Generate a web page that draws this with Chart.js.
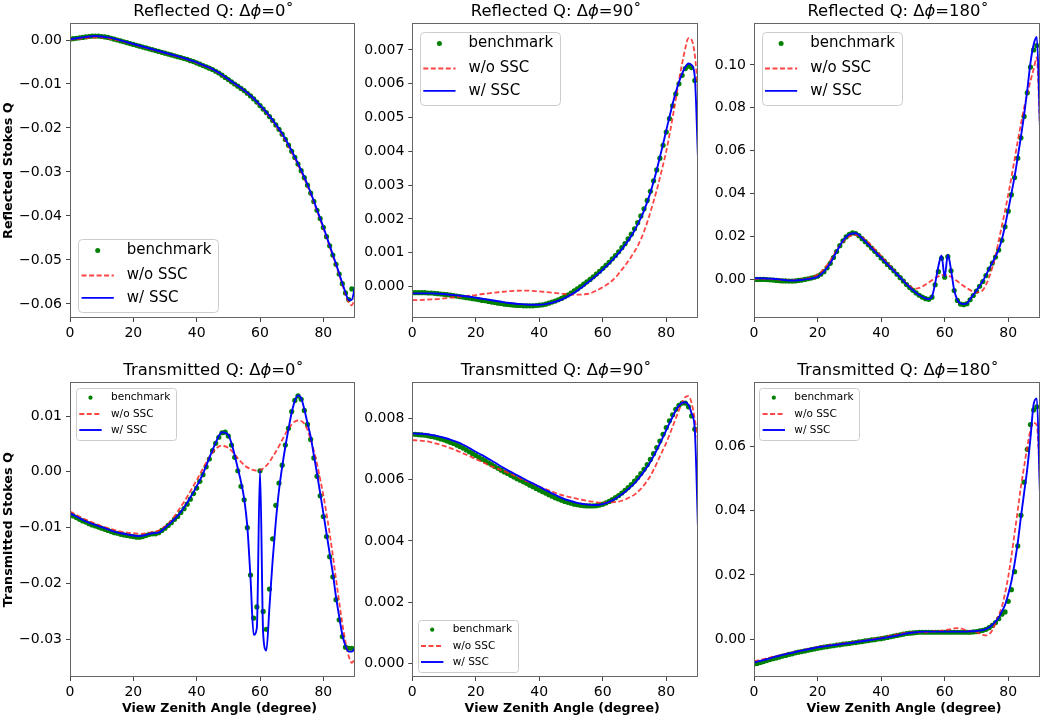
<!DOCTYPE html>
<html>
<head>
<meta charset="utf-8">
<script src="https://cdn.jsdelivr.net/npm/chart.js@4.4.1/dist/chart.umd.min.js"></script>
<style>
  html, body { margin: 0; padding: 0; background: #fff; }
  body { width: 1045px; height: 719px; position: relative; overflow: hidden; }
  .panel { position: absolute; }
</style>
</head>
<body>
<div class="panel" style="left:0px;top:0px;width:360px;height:340px"><canvas id="c1"></canvas></div>
<div class="panel" style="left:356px;top:0px;width:346px;height:340px"><canvas id="c2"></canvas></div>
<div class="panel" style="left:699px;top:0px;width:346px;height:340px"><canvas id="c3"></canvas></div>
<div class="panel" style="left:0px;top:340px;width:360px;height:379px"><canvas id="c4"></canvas></div>
<div class="panel" style="left:356px;top:340px;width:346px;height:379px"><canvas id="c5"></canvas></div>
<div class="panel" style="left:699px;top:340px;width:346px;height:379px"><canvas id="c6"></canvas></div>
<script>
// view zenith angles (degree) for the two model curves and the benchmark dots
const lineAngles = [0, 2, 4, 6, 8, 10, 12, 14, 16, 18, 20, 22, 24, 26, 28, 30, 32, 34, 36, 38, 40, 42, 44, 46, 48, 50,
  51, 52, 53, 54, 55, 56, 57, 58, 59, 60,
  61, 62, 63, 64, 65, 66, 67, 68, 69, 70,
  71, 72, 73, 74, 75, 76, 77, 78, 79, 80,
  81, 82, 83, 84, 85, 86, 87, 88, 89, 90];
const benchAngles = [0, 1, 2, 3, 4, 5, 6, 7, 8, 9,
  10, 11, 12, 13, 14, 15, 16, 17, 18, 19,
  20, 21, 22, 23, 24, 25, 26, 27, 28, 29,
  30, 31, 32, 33, 34, 35, 36, 37, 38, 39,
  40, 41, 42, 43, 44, 45, 46, 47, 48, 49,
  50, 51, 52, 53, 54, 55, 56, 57, 58, 59,
  60, 61, 62, 63, 64, 65, 66, 67, 68, 69,
  70, 71, 72, 73, 74, 75, 76, 77, 78, 79,
  80, 81, 82, 83, 84, 85, 86, 87, 88, 89];
const xTicks = [0, 20, 40, 60, 80];

const titles = ['Reflected Q: Δϕ=0˚', 'Reflected Q: Δϕ=90˚', 'Reflected Q: Δϕ=180˚',
  'Transmitted Q: Δϕ=0˚', 'Transmitted Q: Δϕ=90˚', 'Transmitted Q: Δϕ=180˚'];
const seriesNames = ['benchmark', 'w/o SSC', 'w/ SSC'];

// Reflected, dphi = 0
const refl0Ticks = [0, -0.01, -0.02, -0.03, -0.04, -0.05, -0.06];
const refl0WithSsc = [0.0002, 0.0004, 0.0006, 0.0008, 0.0009, 0.0008, 0.0006, 0.0003, -0.0001, -0.0005, -0.0009, -0.0013, -0.0017,
  -0.0021, -0.0025, -0.0029, -0.0033, -0.0037, -0.0041, -0.0046, -0.0051, -0.0057, -0.0063, -0.0070, -0.0079, -0.0089,
  -0.0094, -0.0099, -0.0104, -0.0109, -0.0114, -0.0120, -0.0126, -0.0133, -0.0140, -0.0148,
  -0.0156, -0.0164, -0.0173, -0.0182, -0.0192, -0.0202, -0.0213, -0.0225, -0.0238, -0.0252,
  -0.0266, -0.0281, -0.0296, -0.0312, -0.0329, -0.0347, -0.0366, -0.0386, -0.0405, -0.0425,
  -0.0446, -0.0467, -0.0488, -0.0509, -0.0531, -0.0553, -0.0574, -0.0591, -0.0590, -0.0560];
const refl0NoSsc = [0.0001, 0.0002, 0.0004, 0.0005, 0.0006, 0.0006, 0.0004, 0.0001, -0.0002, -0.0006, -0.0010, -0.0014, -0.0018,
  -0.0022, -0.0026, -0.0030, -0.0034, -0.0038, -0.0042, -0.0047, -0.0052, -0.0058, -0.0064, -0.0071, -0.0080, -0.0090,
  -0.0095, -0.0100, -0.0105, -0.0110, -0.0115, -0.0121, -0.0127, -0.0134, -0.0141, -0.0149,
  -0.0157, -0.0166, -0.0175, -0.0184, -0.0194, -0.0205, -0.0216, -0.0228, -0.0241, -0.0255,
  -0.0269, -0.0284, -0.0299, -0.0315, -0.0332, -0.0350, -0.0369, -0.0388, -0.0408, -0.0428,
  -0.0449, -0.0470, -0.0491, -0.0512, -0.0534, -0.0556, -0.0578, -0.0597, -0.0603, -0.0585];
const refl0Bench = [0.0002, 0.0003, 0.0004, 0.0005, 0.0006, 0.0007, 0.0008, 0.0009, 0.0009, 0.0009,
  0.0008, 0.0007, 0.0006, 0.0004, 0.0002, 0.0000, -0.0002, -0.0004, -0.0006, -0.0008,
  -0.0010, -0.0012, -0.0014, -0.0016, -0.0018, -0.0020, -0.0022, -0.0024, -0.0026, -0.0028,
  -0.0030, -0.0032, -0.0034, -0.0036, -0.0038, -0.0040, -0.0042, -0.0044, -0.0047, -0.0049,
  -0.0052, -0.0055, -0.0058, -0.0061, -0.0064, -0.0067, -0.0071, -0.0075, -0.0080, -0.0085,
  -0.0090, -0.0095, -0.0100, -0.0105, -0.0110, -0.0115, -0.0121, -0.0127, -0.0134, -0.0141,
  -0.0149, -0.0157, -0.0165, -0.0174, -0.0183, -0.0193, -0.0203, -0.0214, -0.0226, -0.0239,
  -0.0253, -0.0267, -0.0282, -0.0297, -0.0313, -0.0330, -0.0348, -0.0367, -0.0387, -0.0406,
  -0.0426, -0.0447, -0.0468, -0.0489, -0.0510, -0.0532, -0.0554, -0.0575, -0.0590, -0.0566];

// Reflected, dphi = 90
const refl90Ticks = [0, 0.001, 0.002, 0.003, 0.004, 0.005, 0.006, 0.007];
const refl90WithSsc = [-0.00020, -0.00020, -0.00020, -0.00020, -0.00021, -0.00022, -0.00024, -0.00026, -0.00028, -0.00030, -0.00033, -0.00036, -0.00039,
  -0.00042, -0.00045, -0.00048, -0.00050, -0.00052, -0.00053, -0.00054, -0.00054, -0.00052, -0.00048, -0.00042, -0.00034, -0.00024,
  -0.00018, -0.00012, -0.00005, 0.00002, 0.00010, 0.00017, 0.00025, 0.00033, 0.00041, 0.00050,
  0.00059, 0.00068, 0.00078, 0.00088, 0.00099, 0.00110, 0.00123, 0.00136, 0.00150, 0.00166,
  0.00184, 0.00203, 0.00225, 0.00250, 0.00278, 0.00310, 0.00345, 0.00383, 0.00422, 0.00462,
  0.00502, 0.00540, 0.00575, 0.00605, 0.00630, 0.00650, 0.00660, 0.00655, 0.00620, 0.00380];
const refl90NoSsc = [-0.00040, -0.00040, -0.00039, -0.00038, -0.00037, -0.00035, -0.00033, -0.00031, -0.00029, -0.00027, -0.00025, -0.00022, -0.00020,
  -0.00018, -0.00016, -0.00014, -0.00013, -0.00012, -0.00012, -0.00013, -0.00014, -0.00016, -0.00018, -0.00020, -0.00022, -0.00023,
  -0.00024, -0.00024, -0.00024, -0.00023, -0.00022, -0.00020, -0.00016, -0.00012, -0.00007, -0.00002,
  0.00004, 0.00010, 0.00018, 0.00027, 0.00038, 0.00050, 0.00062, 0.00075, 0.00089, 0.00104,
  0.00120, 0.00140, 0.00163, 0.00190, 0.00220, 0.00252, 0.00285, 0.00322, 0.00360, 0.00400,
  0.00448, 0.00500, 0.00555, 0.00610, 0.00660, 0.00705, 0.00735, 0.00730, 0.00685, 0.00580];
const refl90Bench = [-0.00018, -0.00018, -0.00018, -0.00018, -0.00018, -0.00019, -0.00019, -0.00020, -0.00021, -0.00022,
  -0.00023, -0.00024, -0.00025, -0.00027, -0.00028, -0.00030, -0.00031, -0.00033, -0.00034, -0.00036,
  -0.00037, -0.00039, -0.00041, -0.00042, -0.00044, -0.00046, -0.00047, -0.00049, -0.00050, -0.00052,
  -0.00053, -0.00054, -0.00055, -0.00056, -0.00056, -0.00057, -0.00057, -0.00057, -0.00057, -0.00056,
  -0.00055, -0.00054, -0.00052, -0.00049, -0.00046, -0.00043, -0.00039, -0.00035, -0.00030, -0.00025,
  -0.00019, -0.00013, -0.00007, 0.00000, 0.00007, 0.00014, 0.00021, 0.00029, 0.00037, 0.00045,
  0.00054, 0.00063, 0.00072, 0.00082, 0.00092, 0.00103, 0.00115, 0.00127, 0.00141, 0.00155,
  0.00171, 0.00189, 0.00209, 0.00230, 0.00255, 0.00282, 0.00313, 0.00345, 0.00380, 0.00418,
  0.00457, 0.00497, 0.00535, 0.00570, 0.00600, 0.00625, 0.00645, 0.00652, 0.00648, 0.00610];

// Reflected, dphi = 180
const refl180Ticks = [0, 0.02, 0.04, 0.06, 0.08, 0.10];
const refl180WithSsc = [0.0005, 0.0005, 0.0004, 0.0003, 0.0000, -0.0004, -0.0005, -0.0004, 0.0000, 0.0004, 0.0012, 0.0036, 0.0075,
  0.0130, 0.0180, 0.0210, 0.0215, 0.0192, 0.0162, 0.0131, 0.0100, 0.0070, 0.0040, 0.0009, -0.0022, -0.0050,
  -0.0062, -0.0073, -0.0082, -0.0089, -0.0092, -0.0081, -0.0019, 0.0059, 0.0112, 0.0012,
  0.0115, 0.0044, -0.0050, -0.0096, -0.0112, -0.0115, -0.0112, -0.0092, -0.0072, -0.0052,
  -0.0030, -0.0008, 0.0020, 0.0050, 0.0078, 0.0106, 0.0140, 0.0186, 0.0250, 0.0323,
  0.0400, 0.0479, 0.0570, 0.0666, 0.0767, 0.0883, 0.1010, 0.1095, 0.1130, 0.0710];
const refl180NoSsc = [0.0003, 0.0003, 0.0002, 0.0001, -0.0001, -0.0003, -0.0004, -0.0002, 0.0002, 0.0010, 0.0022, 0.0048, 0.0088,
  0.0135, 0.0175, 0.0200, 0.0207, 0.0196, 0.0172, 0.0140, 0.0108, 0.0076, 0.0043, 0.0010, -0.0020, -0.0040,
  -0.0043, -0.0040, -0.0033, -0.0024, -0.0014, -0.0004, 0.0006, 0.0014, 0.0020, 0.0022,
  0.0019, 0.0012, 0.0002, -0.0009, -0.0020, -0.0031, -0.0041, -0.0050, -0.0057, -0.0061,
  -0.0058, -0.0050, -0.0025, 0.0010, 0.0055, 0.0110, 0.0180, 0.0250, 0.0320, 0.0395,
  0.0475, 0.0560, 0.0645, 0.0725, 0.0800, 0.0865, 0.0925, 0.0980, 0.1035, 0.0700];
const refl180Bench = [0.0000, 0.0000, 0.0000, 0.0000, -0.0001, -0.0002, -0.0003, -0.0005, -0.0006, -0.0007,
  -0.0007, -0.0008, -0.0008, -0.0007, -0.0005, -0.0003, 0.0000, 0.0003, 0.0006, 0.0010,
  0.0015, 0.0024, 0.0036, 0.0054, 0.0075, 0.0102, 0.0130, 0.0157, 0.0180, 0.0198,
  0.0210, 0.0217, 0.0214, 0.0204, 0.0190, 0.0176, 0.0161, 0.0146, 0.0131, 0.0116,
  0.0100, 0.0085, 0.0070, 0.0055, 0.0040, 0.0024, 0.0008, -0.0008, -0.0024, -0.0038,
  -0.0051, -0.0063, -0.0074, -0.0083, -0.0090, -0.0093, -0.0083, -0.0025, 0.0036, 0.0098,
  0.0010, 0.0106, 0.0040, -0.0052, -0.0098, -0.0115, -0.0118, -0.0113, -0.0095, -0.0075,
  -0.0055, -0.0032, -0.0010, 0.0018, 0.0048, 0.0076, 0.0104, 0.0137, 0.0182, 0.0245,
  0.0318, 0.0395, 0.0475, 0.0565, 0.0660, 0.0760, 0.0870, 0.0990, 0.1070, 0.1090];

// Transmitted, dphi = 0
const trans0Ticks = [0.01, 0, -0.01, -0.02, -0.03];
const trans0WithSsc = [-0.0074, -0.0080, -0.0086, -0.0091, -0.0095, -0.0099, -0.0103, -0.0107, -0.0110, -0.0112, -0.0114, -0.0115, -0.0113,
  -0.0110, -0.0109, -0.0100, -0.0090, -0.0079, -0.0064, -0.0046, -0.0026, -0.0003, 0.0025, 0.0052, 0.0071, 0.0066,
  0.0051, 0.0030, 0.0006, -0.0018, -0.0048, -0.0098, -0.0190, -0.0292, -0.0280, 0.0003,
  -0.0290, -0.0320, -0.0241, -0.0158, -0.0089, -0.0033, 0.0009, 0.0045, 0.0077, 0.0106,
  0.0127, 0.0137, 0.0132, 0.0112, 0.0087, 0.0063, 0.0030, -0.0003, -0.0038, -0.0074,
  -0.0110, -0.0146, -0.0182, -0.0224, -0.0259, -0.0292, -0.0312, -0.0322, -0.0322, -0.0316];
const trans0NoSsc = [-0.0071, -0.0077, -0.0083, -0.0088, -0.0093, -0.0097, -0.0101, -0.0104, -0.0107, -0.0109, -0.0110, -0.0111, -0.0110,
  -0.0108, -0.0105, -0.0098, -0.0087, -0.0071, -0.0054, -0.0035, -0.0015, 0.0006, 0.0026, 0.0041, 0.0047, 0.0043,
  0.0038, 0.0031, 0.0024, 0.0018, 0.0012, 0.0008, 0.0005, 0.0003, 0.0002, 0.0003,
  0.0006, 0.0011, 0.0018, 0.0027, 0.0036, 0.0046, 0.0057, 0.0068, 0.0077, 0.0085,
  0.0090, 0.0092, 0.0091, 0.0086, 0.0075, 0.0058, 0.0038, 0.0014, -0.0013, -0.0042,
  -0.0075, -0.0110, -0.0150, -0.0192, -0.0233, -0.0272, -0.0305, -0.0330, -0.0342, -0.0335];
const trans0Bench = [-0.0076, -0.0079, -0.0082, -0.0085, -0.0088, -0.0090, -0.0093, -0.0095, -0.0097, -0.0099,
  -0.0101, -0.0103, -0.0105, -0.0107, -0.0109, -0.0110, -0.0112, -0.0113, -0.0114, -0.0115,
  -0.0116, -0.0117, -0.0117, -0.0116, -0.0114, -0.0112, -0.0111, -0.0111, -0.0109, -0.0105,
  -0.0101, -0.0096, -0.0091, -0.0085, -0.0080, -0.0073, -0.0066, -0.0058, -0.0049, -0.0039,
  -0.0029, -0.0017, -0.0005, 0.0009, 0.0023, 0.0038, 0.0051, 0.0062, 0.0070, 0.0071,
  0.0064, 0.0048, 0.0026, 0.0002, -0.0026, -0.0050, -0.0100, -0.0185, -0.0262, -0.0242,
  0.0002, -0.0250, -0.0282, -0.0210, -0.0120, -0.0060, -0.0020, 0.0012, 0.0048, 0.0078,
  0.0108, 0.0128, 0.0136, 0.0130, 0.0110, 0.0085, 0.0058, 0.0025, -0.0008, -0.0043,
  -0.0080, -0.0116, -0.0152, -0.0188, -0.0229, -0.0265, -0.0295, -0.0314, -0.0316, -0.0316];

// Transmitted, dphi = 90
const trans90Ticks = [0, 0.002, 0.004, 0.006, 0.008];
const trans90WithSsc = [0.00751, 0.00750, 0.00749, 0.00746, 0.00742, 0.00737, 0.00731, 0.00723, 0.00714, 0.00703, 0.00691, 0.00680, 0.00668,
  0.00656, 0.00643, 0.00631, 0.00620, 0.00609, 0.00598, 0.00588, 0.00577, 0.00566, 0.00555, 0.00545, 0.00536, 0.00530,
  0.00527, 0.00524, 0.00522, 0.00520, 0.00519, 0.00518, 0.00517, 0.00517, 0.00518, 0.00520,
  0.00523, 0.00527, 0.00532, 0.00538, 0.00545, 0.00552, 0.00560, 0.00569, 0.00578, 0.00588,
  0.00600, 0.00613, 0.00627, 0.00642, 0.00658, 0.00677, 0.00697, 0.00718, 0.00740, 0.00762,
  0.00784, 0.00805, 0.00826, 0.00842, 0.00851, 0.00853, 0.00844, 0.00816, 0.00762, 0.00440];
const trans90NoSsc = [0.00729, 0.00728, 0.00726, 0.00722, 0.00717, 0.00710, 0.00703, 0.00695, 0.00686, 0.00677, 0.00667, 0.00658, 0.00648,
  0.00639, 0.00631, 0.00623, 0.00614, 0.00604, 0.00595, 0.00586, 0.00577, 0.00569, 0.00561, 0.00553, 0.00547, 0.00542,
  0.00540, 0.00537, 0.00535, 0.00533, 0.00531, 0.00529, 0.00528, 0.00526, 0.00525, 0.00525,
  0.00525, 0.00525, 0.00526, 0.00527, 0.00528, 0.00531, 0.00535, 0.00540, 0.00545, 0.00551,
  0.00560, 0.00570, 0.00582, 0.00596, 0.00612, 0.00632, 0.00653, 0.00676, 0.00698, 0.00720,
  0.00746, 0.00773, 0.00800, 0.00827, 0.00852, 0.00870, 0.00873, 0.00850, 0.00795, 0.00730];
const trans90Bench = [0.00748, 0.00748, 0.00747, 0.00746, 0.00745, 0.00743, 0.00741, 0.00739, 0.00736, 0.00733,
  0.00730, 0.00726, 0.00722, 0.00718, 0.00713, 0.00708, 0.00703, 0.00697, 0.00691, 0.00685,
  0.00679, 0.00673, 0.00667, 0.00661, 0.00655, 0.00649, 0.00643, 0.00637, 0.00631, 0.00625,
  0.00620, 0.00614, 0.00609, 0.00603, 0.00598, 0.00593, 0.00588, 0.00582, 0.00577, 0.00571,
  0.00566, 0.00561, 0.00556, 0.00551, 0.00546, 0.00541, 0.00537, 0.00533, 0.00529, 0.00526,
  0.00523, 0.00520, 0.00518, 0.00516, 0.00515, 0.00514, 0.00514, 0.00514, 0.00515, 0.00517,
  0.00520, 0.00524, 0.00529, 0.00535, 0.00541, 0.00548, 0.00556, 0.00565, 0.00574, 0.00584,
  0.00595, 0.00607, 0.00620, 0.00634, 0.00649, 0.00666, 0.00685, 0.00705, 0.00726, 0.00748,
  0.00770, 0.00792, 0.00812, 0.00830, 0.00843, 0.00850, 0.00850, 0.00838, 0.00808, 0.00765];

// Transmitted, dphi = 180
const trans180Ticks = [0, 0.02, 0.04, 0.06];
const trans180WithSsc = [-0.0072, -0.0067, -0.0062, -0.0056, -0.0051, -0.0046, -0.0042, -0.0037, -0.0033, -0.0029, -0.0025, -0.0022, -0.0019,
  -0.0017, -0.0014, -0.0012, -0.0009, -0.0006, -0.0003, 0.0000, 0.0003, 0.0006, 0.0010, 0.0014, 0.0018, 0.0021,
  0.0022, 0.0023, 0.0024, 0.0024, 0.0024, 0.0024, 0.0024, 0.0024, 0.0024, 0.0024,
  0.0024, 0.0024, 0.0024, 0.0024, 0.0024, 0.0024, 0.0024, 0.0025, 0.0025, 0.0026,
  0.0027, 0.0029, 0.0032, 0.0037, 0.0045, 0.0055, 0.0068, 0.0086, 0.0107, 0.0140,
  0.0180, 0.0235, 0.0300, 0.0380, 0.0455, 0.0530, 0.0625, 0.0730, 0.0748, 0.0450];
const trans180NoSsc = [-0.0068, -0.0064, -0.0059, -0.0054, -0.0050, -0.0045, -0.0041, -0.0036, -0.0032, -0.0028, -0.0024, -0.0021, -0.0018,
  -0.0016, -0.0013, -0.0011, -0.0008, -0.0005, -0.0002, 0.0002, 0.0005, 0.0009, 0.0013, 0.0017, 0.0020, 0.0022,
  0.0022, 0.0022, 0.0022, 0.0022, 0.0023, 0.0024, 0.0025, 0.0026, 0.0027, 0.0028,
  0.0030, 0.0032, 0.0034, 0.0035, 0.0034, 0.0031, 0.0028, 0.0025, 0.0024, 0.0022,
  0.0018, 0.0014, 0.0012, 0.0016, 0.0028, 0.0050, 0.0075, 0.0101, 0.0143, 0.0194,
  0.0257, 0.0329, 0.0401, 0.0474, 0.0536, 0.0598, 0.0650, 0.0672, 0.0665, 0.0490];
const trans180Bench = [-0.0077, -0.0075, -0.0072, -0.0069, -0.0066, -0.0063, -0.0060, -0.0058, -0.0055, -0.0052,
  -0.0050, -0.0047, -0.0045, -0.0042, -0.0040, -0.0038, -0.0036, -0.0034, -0.0032, -0.0030,
  -0.0028, -0.0026, -0.0024, -0.0023, -0.0021, -0.0020, -0.0018, -0.0017, -0.0015, -0.0014,
  -0.0013, -0.0011, -0.0010, -0.0008, -0.0007, -0.0005, -0.0004, -0.0002, -0.0001, 0.0001,
  0.0002, 0.0004, 0.0006, 0.0008, 0.0010, 0.0012, 0.0014, 0.0016, 0.0018, 0.0019,
  0.0020, 0.0021, 0.0022, 0.0022, 0.0022, 0.0022, 0.0022, 0.0022, 0.0022, 0.0022,
  0.0022, 0.0022, 0.0022, 0.0022, 0.0022, 0.0022, 0.0022, 0.0022, 0.0022, 0.0023,
  0.0024, 0.0026, 0.0028, 0.0031, 0.0036, 0.0043, 0.0052, 0.0064, 0.0078, 0.0085,
  0.0118, 0.0154, 0.0210, 0.0290, 0.0385, 0.0488, 0.0590, 0.0667, 0.0712, 0.0722];

const FONT = "'DejaVu Sans', sans-serif";
Chart.defaults.font.family = FONT;
Chart.defaults.color = '#000';

const legendStyles = {
  big: { w: 140, h: 73, font: 15, rows: [11.8, 36.8, 59.2], line: [3.3, 35.5], textX: 48.5, r: 4, dotR: 2.5 },
  small: { w: 100, h: 52, font: 10.5, rows: [10, 26.3, 42.3], line: [3.3, 25.7], textX: 35, r: 3, dotR: 2.1 }
};

function fmt(v, d) {
  const s = Math.abs(v).toFixed(d);
  return (v < -1e-12 ? '\u2212' : '') + s;
}

// frame, title, x label and legend drawn the way matplotlib lays them out
function makeDecor(p) {
  return {
    id: 'decor',
    afterDraw(chart) {
      const ctx = chart.ctx;
      const a = chart.chartArea;
      ctx.save();

      // axes frame
      ctx.strokeStyle = '#666';
      ctx.lineWidth = 1;
      const l = Math.round(a.left) + 0.5, t = Math.round(a.top) + 0.5;
      const r = Math.round(a.right) - 0.5, b = Math.round(a.bottom) - 0.5;
      ctx.strokeRect(l, t, r - l, b - t);

      // title with italic phi
      const parts = p.title.split('ϕ');
      const size = 16.4;
      const up = size + 'px ' + FONT, it = 'italic ' + size + 'px ' + FONT;
      ctx.font = up; const w0 = ctx.measureText(parts[0]).width, w2 = ctx.measureText(parts[1]).width;
      ctx.font = it; const w1 = ctx.measureText('ϕ').width;
      let x = (a.left + a.right) / 2 + 1 - (w0 + w1 + w2) / 2;
      const y = a.top - 7;
      ctx.fillStyle = '#000';
      ctx.textBaseline = 'alphabetic';
      ctx.textAlign = 'left';
      ctx.font = up; ctx.fillText(parts[0], x, y); x += w0;
      ctx.font = it; ctx.fillText('ϕ', x, y); x += w1;
      ctx.font = up; ctx.fillText(parts[1], x, y);

      // x axis label (bottom row only)
      if (p.xLabel) {
        ctx.font = 'bold 12.6px ' + FONT;
        ctx.textAlign = 'center';
        ctx.fillText(p.xLabel, (a.left + a.right) / 2 + 7, a.bottom + 34.7);
      }

      // legend
      const st = legendStyles[p.legend.style];
      const bx = a.left + p.legend.dx;
      const by = p.legend.corner === 'll' ? a.bottom - p.legend.dy - st.h : a.top + p.legend.dy;
      ctx.beginPath();
      ctx.roundRect(Math.round(bx) + 0.5, Math.round(by) + 0.5, st.w, st.h, st.r);
      ctx.fillStyle = 'rgba(255,255,255,0.8)';
      ctx.fill();
      ctx.strokeStyle = '#cccccc';
      ctx.lineWidth = 1;
      ctx.stroke();
      ctx.font = st.font + 'px ' + FONT;
      ctx.textAlign = 'left';
      ctx.textBaseline = 'middle';
      chart.data.datasets.forEach((ds, i) => {
        const ry = by + st.rows[i];
        const x0 = bx + st.line[0], x1 = bx + st.line[1];
        if (ds.showLine) {
          ctx.beginPath();
          ctx.setLineDash(ds.borderDash || []);
          ctx.strokeStyle = ds.borderColor;
          ctx.lineWidth = ds.borderWidth;
          ctx.moveTo(x0, ry); ctx.lineTo(x1, ry);
          ctx.stroke();
          ctx.setLineDash([]);
        } else {
          ctx.beginPath();
          ctx.fillStyle = ds.backgroundColor;
          ctx.arc((x0 + x1) / 2, ry, st.dotR, 0, Math.PI * 2);
          ctx.fill();
        }
        ctx.fillStyle = '#000';
        ctx.fillText(ds.label, bx + st.textX, ry);
      });
      ctx.restore();
    }
  };
}

const panels = [
  { id: 'c1', title: titles[0], yTitle: 'Reflected Stokes Q', bench: refl0Bench, noSsc: refl0NoSsc, withSsc: refl0WithSsc,
    yMin: -0.0632, yMax: 0.0038, yTicks: refl0Ticks, dec: 2, yWidth: 70, xHeight: 22, pad: { top: 23.3, right: 5 },
    legend: { style: 'big', corner: 'll', dx: 8.3, dy: 6.3 } },
  { id: 'c2', title: titles[1], bench: refl90Bench, noSsc: refl90NoSsc, withSsc: refl90WithSsc,
    yMin: -0.00093, yMax: 0.00779, yTicks: refl90Ticks, dec: 3, yWidth: 56.3, xHeight: 22, pad: { top: 23.3, right: 3.7 },
    legend: { style: 'big', corner: 'ul', dx: 7.7, dy: 8.4 } },
  { id: 'c3', title: titles[2], bench: refl180Bench, noSsc: refl180NoSsc, withSsc: refl180WithSsc,
    yMin: -0.0180, yMax: 0.1194, yTicks: refl180Ticks, dec: 2, yWidth: 55, xHeight: 22, pad: { top: 23.3, right: 5 },
    legend: { style: 'big', corner: 'ul', dx: 7.7, dy: 8.4 } },
  { id: 'c4', title: titles[3], yTitle: 'Transmitted Stokes Q', xLabel: 'View Zenith Angle (degree)',
    bench: trans0Bench, noSsc: trans0NoSsc, withSsc: trans0WithSsc,
    yMin: -0.03675, yMax: 0.01604, yTicks: trans0Ticks, dec: 2, yWidth: 70, xHeight: 42, pad: { top: 42.3, right: 5 },
    legend: { style: 'small', corner: 'ul', dx: 6, dy: 5.4 } },
  { id: 'c5', title: titles[4], xLabel: 'View Zenith Angle (degree)',
    bench: trans90Bench, noSsc: trans90NoSsc, withSsc: trans90WithSsc,
    yMin: -0.000447, yMax: 0.00918, yTicks: trans90Ticks, dec: 3, yWidth: 56.3, xHeight: 42, pad: { top: 42.3, right: 3.7 },
    legend: { style: 'small', corner: 'll', dx: 5.4, dy: 5.3 } },
  { id: 'c6', title: titles[5], xLabel: 'View Zenith Angle (degree)',
    bench: trans180Bench, noSsc: trans180NoSsc, withSsc: trans180WithSsc,
    yMin: -0.0117, yMax: 0.0798, yTicks: trans180Ticks, dec: 2, yWidth: 55, xHeight: 42, pad: { top: 42.3, right: 5 },
    legend: { style: 'small', corner: 'ul', dx: 5.3, dy: 5.4 } }
];

panels.forEach(p => {
  new Chart(document.getElementById(p.id), {
    type: 'scatter',
    data: {
      datasets: [
        {
          label: seriesNames[0],
          data: benchAngles.map((x, i) => ({ x: x, y: p.bench[i] })),
          showLine: false,
          pointRadius: 2.6,
          pointBorderWidth: 0,
          backgroundColor: '#008000',
          borderColor: '#008000',
          order: 3,
          clip: 0
        },
        {
          label: seriesNames[1],
          data: lineAngles.map((x, i) => ({ x: x, y: p.noSsc[i] })),
          showLine: true,
          pointRadius: 0,
          borderColor: 'rgba(255,35,35,0.85)',
          borderWidth: 1.8,
          borderDash: [5, 2.5],
          cubicInterpolationMode: 'monotone',
          order: 2,
          clip: 0
        },
        {
          label: seriesNames[2],
          data: lineAngles.map((x, i) => ({ x: x, y: p.withSsc[i] })),
          showLine: true,
          pointRadius: 0,
          borderColor: '#0000ff',
          borderWidth: 1.9,
          cubicInterpolationMode: 'monotone',
          order: 1,
          clip: 0
        }
      ]
    },
    options: {
      responsive: true,
      maintainAspectRatio: false,
      animation: false,
      events: [],
      layout: { padding: { top: p.pad.top, right: p.pad.right, left: 0, bottom: 0 } },
      plugins: { legend: { display: false }, tooltip: { enabled: false }, title: { display: false } },
      scales: {
        x: {
          type: 'linear',
          position: 'bottom',
          min: 0,
          max: 90,
          afterBuildTicks: s => { s.ticks = xTicks.map(v => ({ value: v })); },
          afterFit: s => { s.height = p.xHeight; },
          ticks: { font: { size: 14 }, color: '#000', padding: 3, maxRotation: 0 },
          grid: { drawOnChartArea: false, tickLength: 4, color: '#444' },
          border: { display: false }
        },
        y: {
          type: 'linear',
          position: 'left',
          min: p.yMin,
          max: p.yMax,
          afterBuildTicks: s => { s.ticks = p.yTicks.map(v => ({ value: v })); },
          afterFit: s => { s.width = p.yWidth; },
          ticks: { font: { size: 14 }, color: '#000', padding: 4, callback: v => fmt(v, p.dec) },
          grid: { drawOnChartArea: false, tickLength: 4, color: '#444' },
          border: { display: false },
          title: {
            display: !!p.yTitle,
            text: p.yTitle || '',
            font: { size: 12.8, weight: 'bold' },
            color: '#000',
            padding: { top: 1, bottom: 0 }
          }
        }
      }
    },
    plugins: [makeDecor(p)]
  });
});
</script>
</body>
</html>
